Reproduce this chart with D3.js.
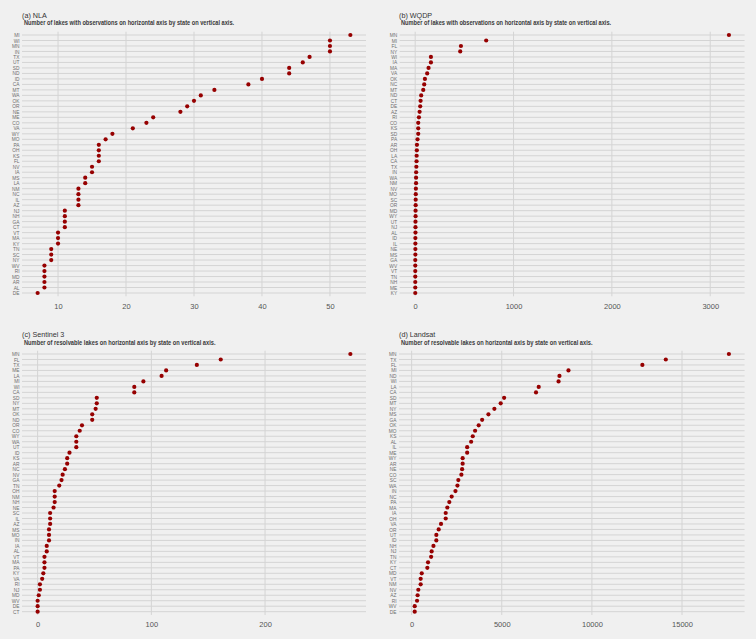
<!DOCTYPE html>
<html>
<head>
<meta charset="utf-8">
<script src="https://cdn.jsdelivr.net/npm/d3@7"></script>
<style>
  body { margin: 0; background: #F0F0F0; }
  svg { display: block; font-family: "Liberation Sans", Arial, sans-serif; }
</style>
</head>
<body>
<svg width="756" height="639"></svg>
<script>
// (a) NLA
let nlaStates = ["MI","WI","MN","IN","TX","UT","SD","ND","ID","CA","MT","WA","OK","OR","NE","ME","CO","VA","WY","MO","PA","OH","KS","FL","NV","IA","MS","LA","NM","NC","IL","AZ","NJ","NH","GA","CT","VT","MA","KY","TN","SC","NY","WV","RI","MD","AR","AL","DE"];
let nlaCounts = [53,50,50,50,47,46,44,44,40,38,33,31,30,29,28,24,23,21,18,17,16,16,16,16,15,15,14,14,13,13,13,13,11,11,11,11,10,10,10,9,9,9,8,8,8,8,8,7];
let nlaTicks = [10,20,30,40,50];

// (b) WQDP
let wqdpStates = ["MN","MI","FL","NY","WI","IA","MA","VA","OK","NC","MT","ND","CT","DE","AZ","RI","CO","KS","SD","PA","AR","OH","LA","CA","TX","IN","WA","NM","NV","MO","SC","OR","MD","WY","UT","NJ","AL","ID","IL","NE","MS","GA","WV","VT","TN","NH","ME","KY"];
let wqdpCounts = [3190,722,465,458,160,160,136,122,99,92,82,61,55,51,45,38,31,31,31,24,18,17,15,14,12,10,9,9,7,6,5,5,4,4,3,3,3,2,2,2,2,1,1,1,1,1,1,1];
let wqdpTicks = [0,1000,2000,3000];

// (c) Sentinel 3
let s3States = ["MN","FL","TX","ME","LA","MI","WI","CA","SD","NY","MT","OK","ND","OR","CO","WY","WA","UT","ID","KS","AR","NC","NV","GA","TN","OH","NM","NH","NE","SC","IL","AZ","MS","MO","IN","IA","AL","VT","MA","PA","KY","VA","RI","NJ","MD","WV","DE","CT"];
let s3Counts = [275,161,140,113,109,93,85,85,52,52,51,48,48,39,37,34,34,34,28,26,26,24,22,21,19,15,15,15,14,11,11,11,10,10,10,8,8,6,6,6,5,4,2,2,1,0,0,0];
let s3Ticks = [0,100,200];

// (d) Landsat
let landsatStates = ["MN","TX","FL","MI","ND","WI","LA","CA","SD","MT","NY","MS","GA","OK","MO","KS","AL","IL","ME","WY","AR","NE","CO","SC","WA","IN","NC","PA","MA","IA","OH","VA","OR","UT","ID","NH","NJ","TN","KY","CT","MD","VT","NM","NV","AZ","RI","WV","DE"];
let landsatCounts = [17600,14100,12800,8700,8200,8150,7050,6900,5130,4940,4590,4260,3910,3720,3520,3390,3300,3080,3080,2830,2830,2800,2760,2590,2540,2430,2220,2090,1980,1890,1890,1630,1500,1370,1370,1210,1110,1080,910,870,560,500,500,370,330,300,170,170];
let landsatTicks = [0,5000,10000,15000];

let svg = d3.select("svg");

let panels = [
    {title: "(a) NLA", sub: "Number of lakes with observations on horizontal axis by state on vertical axis.",
     states: nlaStates, counts: nlaCounts, ticks: nlaTicks, left: 22, right: 366, top: 35, bottom: 293, tx: 22, ty: 17.5},
    {title: "(b) WQDP", sub: "Number of lakes with observations on horizontal axis by state on vertical axis.",
     states: wqdpStates, counts: wqdpCounts, ticks: wqdpTicks, left: 399.6, right: 744.6, top: 35, bottom: 293, tx: 399, ty: 17.5},
    {title: "(c) Sentinel 3", sub: "Number of resolvable lakes on horizontal axis by state on vertical axis.",
     states: s3States, counts: s3Counts, ticks: s3Ticks, left: 22, right: 366, top: 354, bottom: 611.7, tx: 22, ty: 337},
    {title: "(d) Landsat", sub: "Number of resolvable lakes on horizontal axis by state on vertical axis.",
     states: landsatStates, counts: landsatCounts, ticks: landsatTicks, left: 399, right: 744.6, top: 354, bottom: 611.7, tx: 399, ty: 337}
];

let drawPanel = (p) => {
    let g = svg.append("g");
    let rows = p.states.map((s, i) => ({state: s, count: p.counts[i]}));

    let lo = d3.min(p.counts);
    let hi = d3.max(p.counts);
    let pad = (hi - lo) * 0.05;

    let xScale = d3.scaleLinear()
                    .domain([lo - pad, hi + pad])
                    .range([p.left, p.right]);
    let yScale = d3.scalePoint()
                    .domain(p.states)
                    .range([p.top, p.bottom]);

    let step = yScale.step();
    let y0 = p.top - 0.6 * step;
    let y1 = p.bottom + 0.6 * step;

    // grid
    g.selectAll(".hgrid")
        .data(p.states)
        .enter()
        .append("line")
        .attr("x1", p.left)
        .attr("x2", p.right)
        .attr("y1", (s) => yScale(s))
        .attr("y2", (s) => yScale(s))
        .attr("stroke", "#D4D4D4")
        .attr("stroke-width", 1);

    g.selectAll(".vgrid")
        .data(p.ticks)
        .enter()
        .append("line")
        .attr("x1", (t) => xScale(t))
        .attr("x2", (t) => xScale(t))
        .attr("y1", y0)
        .attr("y2", y1)
        .attr("stroke", "#D4D4D4")
        .attr("stroke-width", 1);

    // axes, drawn with d3 axis generators and then stripped of domain and ticks
    let xAxis = d3.axisBottom(xScale)
                    .tickValues(p.ticks)
                    .tickFormat(d3.format("d"))
                    .tickSize(0)
                    .tickPadding(0);
    let xg = g.append("g")
            .attr("transform", "translate(0," + (y1 + 7) + ")")
            .call(xAxis);
    xg.select(".domain").remove();
    xg.selectAll("text")
        .attr("fill", "#555")
        .attr("font-size", 7.5)
        .attr("font-family", "Liberation Sans, Arial, sans-serif");

    let yAxis = d3.axisLeft(yScale)
                    .tickSize(0)
                    .tickPadding(2.5);
    let yg = g.append("g")
            .attr("transform", "translate(" + p.left + ",0)")
            .call(yAxis);
    yg.select(".domain").remove();
    yg.selectAll("text")
        .attr("fill", "#6E6E6E")
        .attr("font-size", 4.8)
        .attr("font-family", "Liberation Sans, Arial, sans-serif");

    // points
    g.selectAll("circle")
        .data(rows)
        .enter()
        .append("circle")
        .attr("cx", (d) => xScale(d.count))
        .attr("cy", (d) => yScale(d.state))
        .attr("r", 2.1)
        .attr("fill", "#960000");

    // titles
    g.append("text")
        .attr("x", p.tx)
        .attr("y", p.ty)
        .attr("font-size", 7.2)
        .attr("fill", "#333")
        .text(p.title);
    g.append("text")
        .attr("x", p.tx + 2)
        .attr("y", p.ty + 7.5)
        .attr("font-size", 6.6)
        .attr("font-weight", "bold")
        .attr("fill", "#3A3A3A")
        .attr("textLength", p.sub.length * 2.66)
        .attr("lengthAdjust", "spacingAndGlyphs")
        .text(p.sub);
};

panels.forEach(drawPanel);
</script>
</body>
</html>
